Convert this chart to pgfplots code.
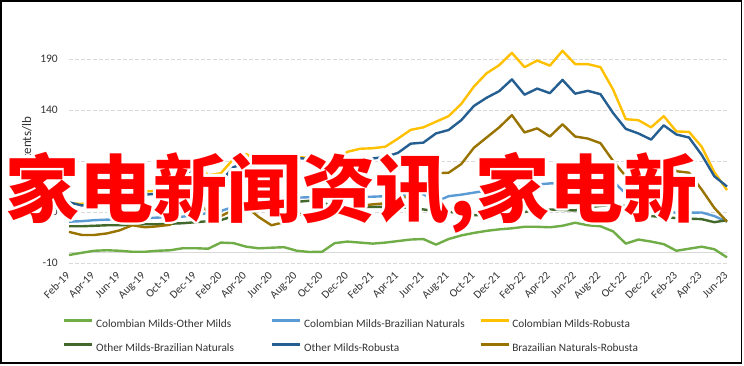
\documentclass[border=0pt]{standalone}
\usepackage{pgfplots}
\usepackage{pgfplotstable}
\pgfplotsset{compat=1.18}
\usetikzlibrary{calc}
\usepackage{fontspec}
\setmainfont{Carlito}
\newfontfamily\cjk{Noto Sans CJK SC}
\definecolor{cgreen}{HTML}{70AD47}
\definecolor{cblue}{HTML}{5B9BD5}
\definecolor{cgold}{HTML}{FFC000}
\definecolor{cdgreen}{HTML}{43682B}
\definecolor{cdblue}{HTML}{255E91}
\definecolor{cbrown}{HTML}{997300}
\definecolor{gridc}{HTML}{D9D9D9}
\definecolor{wmred}{HTML}{FF0000}
\newcommand{\lgent}[1]{\makebox[173pt][l]{#1}}

\pgfplotstableread{
i g lb y dg db br
0 -2.2 30.5 48.5 26 49.5 20.5
1 0 31 48 26 46.5 17.5
2 2 32 50 26.5 47 17.5
3 2.5 32.5 53 27 50 19
4 2 33 55 27 54 22
5 1 33.5 57 27.5 60 27
6 1 34 60 28 57 25
7 2 34.5 61 28 58 26
8 2.5 35 63 28.5 61 27.5
9 4.5 35.5 70 29 72 42
10 4.5 37 88 30 84 52
11 4 39 76 31 73 40
12 10 41 78 32 70 36
13 9.5 45 92 36 84 42
14 6 48.5 97 44 88 45.5
15 4.4 51 88 47 81 35
16 5 53 83 48 79.5 27
17 5.5 54 86 48.5 84 30
18 2 54 94 50 93 38
19 0.8 54.5 93 51 92 37
20 1 55 88 49 82 40
21 9.5 55 90 46 84 43.5
22 11 55 99 45 89.5 45
23 10 55 102 45 91 46
24 9 55 102.5 45 92.5 47.5
25 10 55.5 104 45 94 48.5
26 11.5 56 112 44.5 98 51
27 13 57 120.5 44 107 57
28 13.5 57.5 123 42.5 108 66
29 8 50 128.5 41 117 78
30 13.5 55.5 134 40 120.4 78.5
31 17 57 146 39.5 130 87
32 19.5 59 163 37 144 103
33 21.5 61 176 37 152 113
34 23 62 184 38 158.5 123
35 24 64 196 38.5 170 135
36 25.5 65.5 182 40 155 118
37 25.5 67 188.5 42 161 122
38 25 68 183.5 42.5 156.5 114
39 26.5 68.5 198 42 169.5 126
40 29.5 69.5 185 41.5 156 114
41 27 72 185 44.5 158.8 112
42 26 73.5 182 46 155.5 107.5
43 21 70 160 47 137 90
44 9 58 131 46 121.5 75
45 13 51.5 130 42 117 74
46 11 46.5 123 36 111 76
47 8.5 42 134 35 125 91
48 2 39 119 34 116 80
49 4 39.3 118.5 33.5 113 78.5
50 6 39.5 104 33 96 62
51 3.5 36 79 30 75 44
52 -4.5 30.5 61.5 32 65 30.5
}\datatable

\begin{document}
\begin{tikzpicture}[x=1pt,y=1pt]
\path[use as bounding box] (0pt,0pt) rectangle (744pt,-366pt);
\fill[white] (0pt,0pt) rectangle (744pt,-366pt);
\begin{axis}[
  at={(69pt,-263pt)}, anchor=south west,
  scale only axis, width=658pt, height=204pt,
  xmin=0, xmax=52, ymin=-10, ymax=190,
  axis line style={draw=none},
  major tick length=0pt,
  ytick={-10,40,90,140,190},
  yticklabels={-10,40,90,140,190},
  xtick={0,2,...,52},
  xticklabels={Feb-19,Apr-19,Jun-19,Aug-19,Oct-19,Dec-19,Feb-20,Apr-20,Jun-20,Aug-20,Oct-20,Dec-20,Feb-21,Apr-21,Jun-21,Aug-21,Oct-21,Dec-21,Feb-22,Apr-22,Jun-22,Aug-22,Oct-22,Dec-22,Feb-23,Apr-23,Jun-23},
  ymajorgrids,
  major grid style={gridc, dash pattern=on 4pt off 2pt, line width=0.9pt},
  extra y ticks={0}, extra y tick labels={},
  extra y tick style={grid=major, major grid style={solid, gridc, line width=0.9pt}},
  x tick label style={inner sep=0pt, font=\fontsize{11.3}{13}\selectfont, text=black!80, yshift=-11pt, xshift=-1pt, rotate=45, anchor=east},
  y tick label style={inner sep=0pt, font=\fontsize{11.5}{13}\selectfont, text=black!80, xshift=-11pt, anchor=east},
  clip=false,
  legend columns=3,
  legend cell align=left,
  legend style={at={(axis description cs:-0.0091,-0.275)}, anchor=north west, draw=none, fill=none,
    inner sep=0pt, outer sep=0pt, row sep=14.5pt,
    font=\fontsize{11.3}{13}\selectfont,
    nodes={inner sep=0pt, text=black!80},
    /tikz/every odd column/.append style={column sep=2.5pt},
    /tikz/every even column/.append style={column sep=2pt}},
  legend image code/.code={\draw[#1, line width=2.6pt] (0pt,3.5pt) -- (28pt,3.5pt);},
  every axis plot/.append style={line width=2.4pt, line join=round, mark=none},
]
\addplot[cgreen] table[x=i, y=g] {\datatable};
\addlegendentry{\lgent{Colombian Milds-Other Milds}}
\addplot[cblue] table[x=i, y=lb] {\datatable};
\addlegendentry{\lgent{Colombian Milds-Brazilian Naturals}}
\addplot[cgold] table[x=i, y=y] {\datatable};
\addlegendentry{\lgent{Colombian Milds-Robusta}}
\addplot[cdgreen] table[x=i, y=dg] {\datatable};
\addlegendentry{\lgent{Other Milds-Brazilian Naturals}}
\addplot[cdblue] table[x=i, y=db] {\datatable};
\addlegendentry{\lgent{Other Milds-Robusta}}
\addplot[cbrown] table[x=i, y=br] {\datatable};
\addlegendentry{\lgent{Brazailian Naturals-Robusta}}
\end{axis}
\node[rotate=90, inner sep=0pt, font=\fontsize{13}{15}\selectfont, text=black!80] at (27pt,-147pt) {US cents/lb};
\foreach \a in {0,22.5,...,337.5}{
  \node[anchor=base, inner sep=0pt, text=white, font=\cjk\bfseries\fontsize{74}{80}\selectfont] at ($(351.5pt,-216pt)+(\a:2.6pt)$) {家电新闻资讯,家电新};
}
\node[anchor=base, inner sep=0pt, text=wmred, font=\cjk\bfseries\fontsize{74}{80}\selectfont] at (351.5pt,-216pt) {家电新闻资讯,家电新};
\draw[black, line width=1.6pt] (1pt,-1pt) rectangle (741.5pt,-363pt);
\end{tikzpicture}
\end{document}
